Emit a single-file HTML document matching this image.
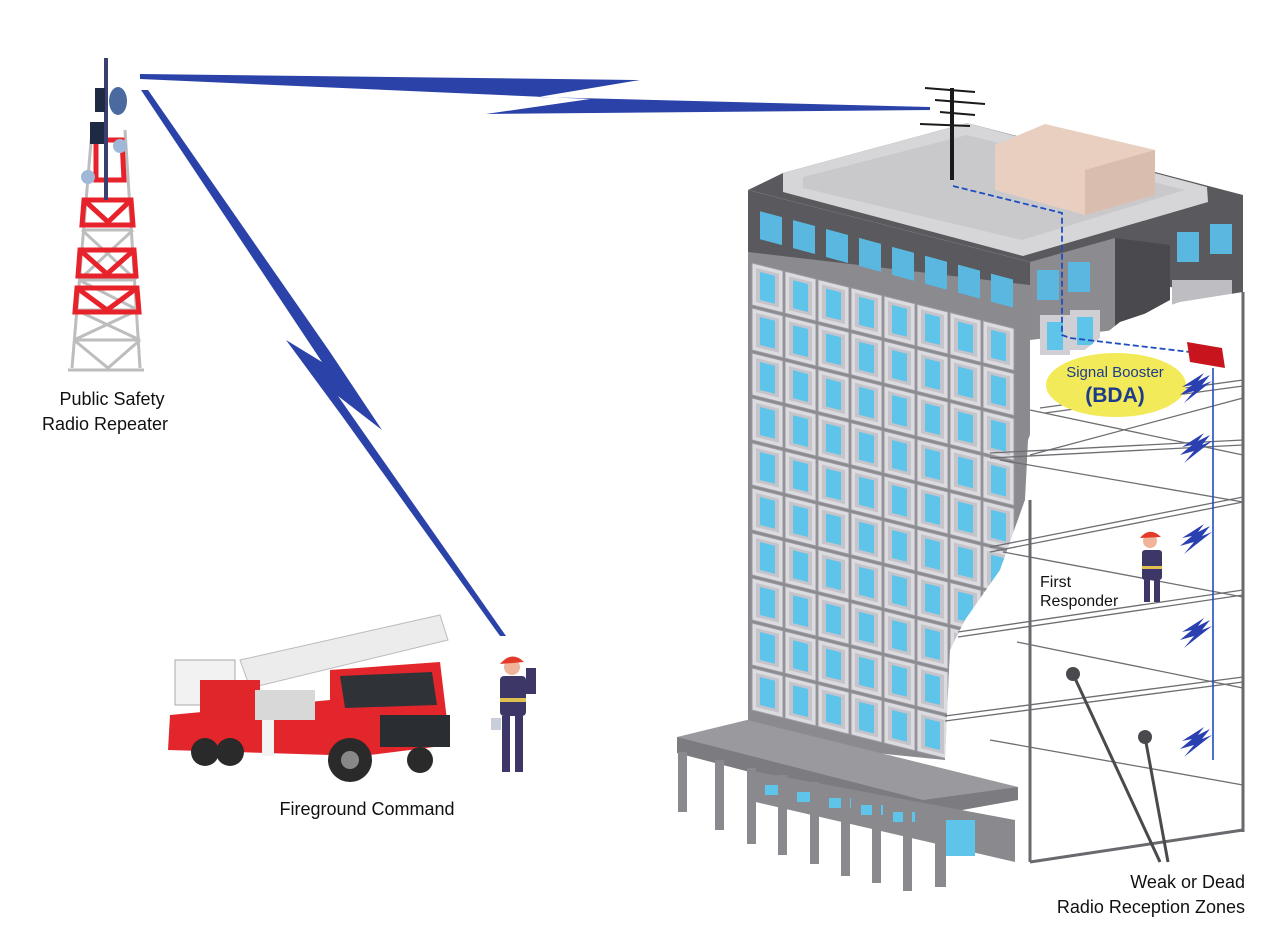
<!DOCTYPE html>
<html><head><meta charset="utf-8"><style>
html,body{margin:0;padding:0;background:#fff}
svg{display:block}
text{font-family:"Liberation Sans",Arial,sans-serif;fill:#111}
</style></head><body>
<svg width="1274" height="942" viewBox="0 0 1274 942" xmlns="http://www.w3.org/2000/svg">
<defs>
<clipPath id="front"><polygon points="748,190 1030,262 1030,440 1025,500 1000,570 965,620 950,650 945,760 748,740"/></clipPath>
<g id="cell"><rect x="0" y="0" width="31" height="42" fill="#dcdce0" stroke="#9a9aa0" stroke-width="1"/><rect x="4" y="4" width="23" height="34" fill="#c4c4ca"/><rect x="8" y="7" width="15" height="28" fill="#5ec4ea"/></g>
<g id="bolt"><polygon points="0,0 22,-14 16,-6 28,-12 20,-2 30,-6 2,16 12,4 -2,8 10,-2" fill="#2a3fb0"/></g>
</defs>

<!-- top bolt -->
<polygon points="140,74 640,80 538,97 930,107 930,110 486,114 590,99 140,79" fill="#2b43a8"/>
<!-- diagonal bolt -->
<polygon points="141,90 148,90 330,352 382,430 338,396 506,636 500,636 342,416 286,340 322,362" fill="#2b43a8"/>

<!-- tower -->
<g stroke="#bdbdbd" stroke-width="3" fill="none">
<line x1="92" y1="130" x2="72" y2="368"/><line x1="125" y1="130" x2="140" y2="368"/>
<line x1="68" y1="370" x2="144" y2="370"/>
<path d="M85,200 L130,200 M82,230 L133,230 M79,280 L136,280 M76,310 L138,310 M74,340 L140,340"/>
<path d="M82,230 L136,280 M133,230 L79,280 M79,280 L138,310 M76,310 L140,340 M138,310 L74,340 M74,340 L108,368 L140,340"/>
</g>
<g stroke="#e8222a" stroke-width="5" fill="none">
<path d="M84,200 L131,200 L133,225 L82,225 Z M84,200 L108,222 L131,200"/>
<path d="M80,250 L134,250 L136,276 L78,276 Z M80,250 L107,274 L134,250"/>
<path d="M77,288 L137,288 L139,312 L75,312 Z M77,288 L107,310 L137,288"/>
<path d="M96,140 L122,140 L124,180 L96,180 Z"/>
</g>
<line x1="106" y1="58" x2="106" y2="200" stroke="#3a3f6e" stroke-width="4"/>
<rect x="95" y="88" width="10" height="24" fill="#1e2a44"/>
<rect x="90" y="122" width="14" height="22" fill="#1e2a44"/>
<ellipse cx="118" cy="101" rx="9" ry="14" fill="#4a6aa0"/>
<circle cx="120" cy="146" r="7" fill="#9fb8d8"/><circle cx="88" cy="177" r="7" fill="#9fb8d8"/>
<text x="112" y="405" font-size="18" text-anchor="middle">Public Safety</text>
<text x="105" y="430" font-size="18" text-anchor="middle">Radio Repeater</text>

<!-- fire truck -->
<g>
<polygon points="240,660 440,615 448,640 250,688" fill="#ececec" stroke="#bbb"/>
<rect x="175" y="660" width="60" height="45" fill="#f2f2f2" stroke="#aaa"/>
<polygon points="170,715 330,700 330,755 168,750" fill="#e3262b"/>
<polygon points="330,670 440,662 450,745 330,760" fill="#e3262b"/>
<polygon points="340,676 432,672 437,705 345,708" fill="#2f3338"/>
<rect x="380" y="715" width="70" height="32" fill="#2a2d31"/>
<rect x="200" y="680" width="60" height="40" fill="#e0262b"/>
<rect x="255" y="690" width="60" height="30" fill="#d8d8d8"/>
<rect x="262" y="720" width="12" height="36" fill="#f3f3f3"/>
<circle cx="205" cy="752" r="14" fill="#2a2a2a"/><circle cx="230" cy="752" r="14" fill="#2a2a2a"/><circle cx="350" cy="760" r="22" fill="#2a2a2a"/><circle cx="350" cy="760" r="9" fill="#888"/>
<circle cx="420" cy="760" r="13" fill="#2a2a2a"/>
</g>
<!-- firefighter outside -->
<g>
<circle cx="512" cy="667" r="8" fill="#f0b49a"/>
<path d="M500,664 Q512,650 524,662 Z" fill="#e33a2a"/>
<rect x="500" y="676" width="26" height="40" rx="4" fill="#3c3766"/>
<rect x="500" y="698" width="26" height="4" fill="#e0c050"/>
<rect x="502" y="716" width="8" height="56" fill="#3c3766"/><rect x="515" y="716" width="8" height="56" fill="#3c3766"/>
<rect x="526" y="668" width="10" height="26" fill="#3c3766"/>
<rect x="491" y="718" width="10" height="12" fill="#c8cfd8"/>
</g>
<text x="367" y="815" font-size="18" text-anchor="middle">Fireground Command</text>

<!-- building roof -->
<polygon points="748,190 783,173 967,123 1243,195 1243,300 1030,262" fill="#5a5a5e"/>
<polygon points="783,173 967,123 1207,187 1208,202 1023,256 783,192" fill="#d6d6d8"/>
<polygon points="803,177 967,135 1185,190 1022,240 803,188" fill="#c9c9cc"/>
<polygon points="995,145 1045,124 1155,150 1155,195 1085,215 995,190" fill="#e8cfc0"/>
<polygon points="1085,170 1155,150 1155,195 1085,215" fill="#d9bdae"/>
<polygon points="1030,262 1115,238 1115,330 1030,340" fill="#8c8c90"/>
<polygon points="1115,238 1170,245 1170,300 1115,330" fill="#4a4a4e"/>
<rect x="1037" y="270" width="22" height="30" fill="#5ab8e0"/><rect x="1068" y="262" width="22" height="30" fill="#5ab8e0"/>
<rect x="1177" y="232" width="22" height="30" fill="#5ab8e0"/><rect x="1210" y="224" width="22" height="30" fill="#5ab8e0"/>
<rect x="1172" y="280" width="60" height="30" fill="#bdbdc2"/>
<rect x="1040" y="315" width="30" height="40" fill="#cfcfd4"/><rect x="1047" y="322" width="16" height="28" fill="#5ec4ea"/>
<rect x="1070" y="310" width="30" height="40" fill="#cfcfd4"/><rect x="1077" y="317" width="16" height="28" fill="#5ec4ea"/>

<!-- front face -->
<g clip-path="url(#front)">
<polygon points="748,190 1030,262 1030,800 748,740" fill="#8a8a8f"/>
<polygon points="748,190 1030,262 1030,285 748,252" fill="#5a5a5e"/>
<g transform="matrix(1,0.25,0,1,0,-187)">
<g id="row">
<use href="#cell" x="752" y="262"/><use href="#cell" x="785" y="262"/><use href="#cell" x="818" y="262"/><use href="#cell" x="851" y="262"/><use href="#cell" x="884" y="262"/><use href="#cell" x="917" y="262"/><use href="#cell" x="950" y="262"/><use href="#cell" x="983" y="262"/>
</g>
<use href="#row" y="45"/><use href="#row" y="90"/><use href="#row" y="135"/><use href="#row" y="180"/><use href="#row" y="225"/><use href="#row" y="270"/><use href="#row" y="315"/><use href="#row" y="360"/><use href="#row" y="405"/>
</g>
</g>
<!-- top band windows -->
<g transform="matrix(1,0.27,0,1,0,-202)">
<rect x="760" y="208" width="22" height="28" fill="#5ab8e0"/><rect x="793" y="208" width="22" height="28" fill="#5ab8e0"/><rect x="826" y="208" width="22" height="28" fill="#5ab8e0"/><rect x="859" y="208" width="22" height="28" fill="#5ab8e0"/><rect x="892" y="208" width="22" height="28" fill="#5ab8e0"/><rect x="925" y="208" width="22" height="28" fill="#5ab8e0"/><rect x="958" y="208" width="22" height="28" fill="#5ab8e0"/><rect x="991" y="208" width="22" height="28" fill="#5ab8e0"/>
</g>

<!-- cutaway -->
<polygon points="1243,292 1180,302 1120,322 1062,368 1040,408 1028,440 1025,500 1000,570 965,620 950,650 945,760 1030,790 1030,862 1243,830" fill="#fff"/>
<g stroke="#6e6e72" stroke-width="1.3" fill="none">
<path d="M1040,408 L1243,380 M1045,413 L1243,386"/>
<path d="M1030,410 L1243,455"/>
<path d="M1030,455 L1243,398"/>
<path d="M990,453 L1243,440 M990,458 L1243,445"/>
<path d="M1000,460 L1243,502"/>
<path d="M990,547 L1243,497 M990,552 L1243,502"/>
<path d="M1003,552 L1243,597"/>
<path d="M958,632 L1243,590 M958,637 L1243,595"/>
<path d="M1017,642 L1243,688"/>
<path d="M945,716 L1243,677 M945,721 L1243,682"/>
<path d="M990,740 L1243,785"/>
</g>
<line x1="1030" y1="500" x2="1030" y2="862" stroke="#6a6a6e" stroke-width="3"/>
<line x1="1243" y1="292" x2="1243" y2="832" stroke="#6a6a6e" stroke-width="3"/>
<line x1="1030" y1="862" x2="1243" y2="830" stroke="#6a6a6e" stroke-width="3"/>

<!-- canopy -->
<polygon points="677,737 747,720 1018,787 1018,800 923,817 677,753" fill="#9a9a9e"/>
<polygon points="677,737 923,800 1018,787 1018,800 923,817 677,753" fill="#7c7c80"/>
<polygon points="747,770 1015,820 1015,862 747,800" fill="#8a8a8e"/>
<g fill="#5ec4ea"><rect x="765" y="785" width="22" height="10"/><rect x="797" y="792" width="22" height="10"/><rect x="829" y="798" width="22" height="10"/><rect x="861" y="805" width="22" height="10"/><rect x="893" y="812" width="22" height="10"/><rect x="940" y="820" width="35" height="36"/></g>
<g fill="#8a8a8e">
<rect x="678" y="752" width="9" height="60"/><rect x="715" y="760" width="9" height="70"/><rect x="747" y="768" width="9" height="76"/><rect x="778" y="775" width="9" height="80"/><rect x="810" y="782" width="9" height="82"/><rect x="841" y="790" width="9" height="86"/><rect x="872" y="797" width="9" height="86"/><rect x="903" y="805" width="9" height="86"/><rect x="935" y="815" width="11" height="72"/>
</g>

<!-- roof antenna & cable -->
<line x1="952" y1="88" x2="952" y2="180" stroke="#1a1a1a" stroke-width="4"/>
<g stroke="#1a1a1a" stroke-width="2"><line x1="925" y1="88" x2="975" y2="92"/><line x1="935" y1="100" x2="985" y2="104"/><line x1="920" y1="124" x2="970" y2="126"/><line x1="940" y1="112" x2="975" y2="115"/></g>
<path d="M953,186 L1062,213 L1062,335 L1070,338 L1190,352" stroke="#1f4ec0" stroke-width="1.8" fill="none" stroke-dasharray="6,3"/>

<!-- BDA -->
<ellipse cx="1116" cy="385" rx="70" ry="32" fill="#f3ea5a"/>
<polygon points="1187,342 1222,348 1225,368 1190,362" fill="#c8141d"/>
<text x="1115" y="377" font-size="15" text-anchor="middle" style="fill:#1d3b8c">Signal Booster</text>
<text x="1115" y="402" font-size="21" font-weight="bold" text-anchor="middle" style="fill:#1d3b8c">(BDA)</text>
<line x1="1213" y1="368" x2="1213" y2="760" stroke="#1f4ec0" stroke-width="1.6"/>
<use href="#bolt" x="1182" y="387"/><use href="#bolt" x="1182" y="447"/><use href="#bolt" x="1182" y="538"/><use href="#bolt" x="1182" y="632"/><use href="#bolt" x="1182" y="741"/>

<!-- first responder -->
<g>
<circle cx="1150" cy="541" r="7" fill="#f0b49a"/>
<path d="M1140,538 Q1150,526 1161,537 Z" fill="#e33a2a"/>
<rect x="1142" y="550" width="20" height="30" rx="3" fill="#3c3766"/>
<rect x="1142" y="566" width="20" height="3" fill="#e0c050"/>
<rect x="1144" y="580" width="6" height="22" fill="#3c3766"/><rect x="1154" y="580" width="6" height="22" fill="#3c3766"/>
</g>
<text x="1040" y="587" font-size="16">First</text>
<text x="1040" y="606" font-size="16">Responder</text>

<!-- dead zones -->
<circle cx="1073" cy="674" r="7" fill="#4a4a4e"/><circle cx="1145" cy="737" r="7" fill="#4a4a4e"/>
<line x1="1073" y1="674" x2="1160" y2="862" stroke="#4a4a4e" stroke-width="3"/>
<line x1="1145" y1="737" x2="1168" y2="862" stroke="#4a4a4e" stroke-width="3"/>
<text x="1245" y="888" font-size="18" text-anchor="end">Weak or Dead</text>
<text x="1245" y="913" font-size="18" text-anchor="end">Radio Reception Zones</text>
</svg>
</body></html>
